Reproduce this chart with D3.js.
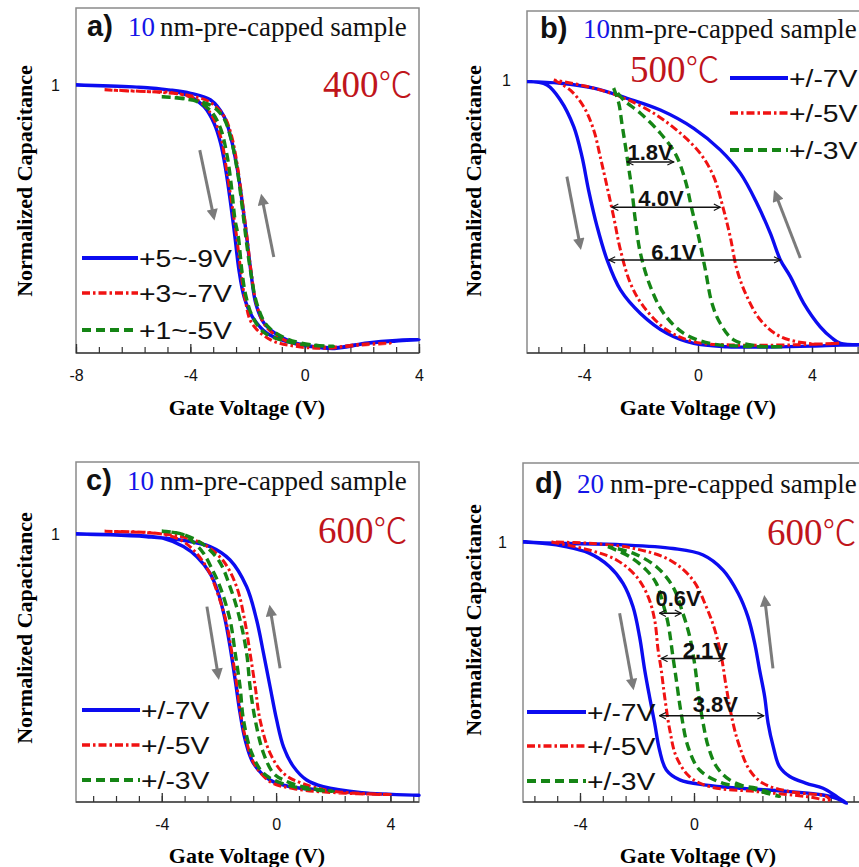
<!DOCTYPE html>
<html>
<head>
<meta charset="utf-8">
<script src="https://cdn.jsdelivr.net/npm/d3@7"></script>
<style>
  body { margin: 0; background: #fff; }
  svg { display: block; }
</style>
</head>
<body>
<svg width="859" height="867"></svg>
<script>
// ---- data (gate voltage V, normalized capacitance) ----
// each loop: down sweep first, then the return sweep

// a) 10 nm, 400C
const aBlue = [[-8, 1.0], [-6.5, 0.995], [-5.5, 0.99], [-4.7, 0.98], [-4.0, 0.957], [-3.52, 0.919], [-3.17, 0.857], [-2.94, 0.782], [-2.76, 0.683], [-2.59, 0.558], [-2.44, 0.434], [-2.30, 0.31], [-2.12, 0.21], [-1.83, 0.135], [-1.31, 0.073], [-0.61, 0.042], [0.21, 0.024], [1.05, 0.017], [2.19, 0.036], [3.2, 0.045], [4.0, 0.05],
  [3.2, 0.047], [2.2, 0.038], [1.05, 0.02], [-0.02, 0.029], [-0.84, 0.061], [-1.42, 0.111], [-1.71, 0.185], [-1.89, 0.31], [-2.03, 0.434], [-2.18, 0.558], [-2.35, 0.683], [-2.59, 0.807], [-2.82, 0.882], [-3.29, 0.944], [-3.99, 0.969], [-4.69, 0.981], [-6.0, 0.993], [-8.0, 1.0]];
const aRed = [[-7.0, 0.982], [-6.2, 0.978], [-5.4, 0.975], [-4.69, 0.972], [-3.75, 0.944], [-3.29, 0.894], [-2.94, 0.807], [-2.73, 0.683], [-2.55, 0.558], [-2.38, 0.434], [-2.24, 0.31], [-2.08, 0.198], [-1.85, 0.111], [-1.19, 0.049], [-0.26, 0.024], [0.8, 0.018], [2.0, 0.03], [3.0, 0.036],
  [2.0, 0.033], [1.0, 0.022], [0.0, 0.028], [-0.72, 0.049], [-1.35, 0.098], [-1.68, 0.18], [-1.88, 0.31], [-2.02, 0.434], [-2.17, 0.558], [-2.33, 0.683], [-2.55, 0.807], [-2.8, 0.88], [-3.3, 0.935], [-4.0, 0.96], [-5.0, 0.972], [-6.0, 0.978], [-7.0, 0.982]];
const aGreen = [[-5.0, 0.956], [-4.4, 0.952], [-3.8, 0.94], [-3.3, 0.905], [-2.95, 0.84], [-2.72, 0.74], [-2.56, 0.62], [-2.44, 0.5], [-2.32, 0.434], [-2.2, 0.31], [-2.05, 0.21], [-1.8, 0.13], [-1.4, 0.075], [-0.7, 0.045], [0.1, 0.03], [1.0, 0.025],
  [0.3, 0.03], [-0.6, 0.052], [-1.3, 0.1], [-1.66, 0.18], [-1.9, 0.31], [-2.06, 0.434], [-2.2, 0.558], [-2.36, 0.683], [-2.58, 0.8], [-2.85, 0.88], [-3.3, 0.925], [-4.2, 0.948], [-5.0, 0.956]];

// b) 10 nm, 500C
const bBlue = [[-6, 0.994], [-5.3, 0.982], [-4.83, 0.927], [-4.36, 0.829], [-4.07, 0.719], [-3.84, 0.597], [-3.54, 0.463], [-3.19, 0.341], [-2.72, 0.231], [-2.02, 0.145], [-1.09, 0.072], [-0.15, 0.035], [1.02, 0.023], [2.5, 0.022], [4.0, 0.025], [5.0, 0.029], [6.0, 0.03],
  [5.0, 0.035], [4.7, 0.055], [4.29, 0.096], [3.71, 0.182], [3.24, 0.28], [2.89, 0.341], [2.54, 0.438], [2.07, 0.548], [1.49, 0.658], [0.78, 0.744], [-0.15, 0.823], [-1.32, 0.89], [-2.49, 0.933], [-3.66, 0.97], [-4.83, 0.988], [-6, 0.994]];
const bRed = [[-5.06, 1.0], [-4.48, 0.963], [-4.01, 0.902], [-3.66, 0.817], [-3.43, 0.719], [-3.19, 0.609], [-2.96, 0.499], [-2.72, 0.377], [-2.37, 0.255], [-1.91, 0.17], [-1.09, 0.084], [-0.15, 0.041], [1.02, 0.03], [3.36, 0.03], [5.0, 0.036],
  [4.0, 0.034], [2.89, 0.06], [2.19, 0.121], [1.72, 0.206], [1.37, 0.304], [1.13, 0.426], [0.90, 0.524], [0.55, 0.646], [0.08, 0.731], [-0.62, 0.805], [-1.55, 0.878], [-2.72, 0.939], [-3.89, 0.976], [-5.06, 1.0]];
const bGreen = [[-2.96, 0.97], [-2.78, 0.915], [-2.67, 0.841], [-2.49, 0.719], [-2.32, 0.597], [-2.20, 0.487], [-2.02, 0.365], [-1.67, 0.243], [-1.20, 0.145], [-0.50, 0.072], [0.43, 0.035], [1.5, 0.025], [2.19, 0.023], [3.0, 0.023],
  [2.19, 0.025], [1.25, 0.048], [0.78, 0.109], [0.49, 0.182], [0.26, 0.304], [0.02, 0.426], [-0.21, 0.524], [-0.45, 0.634], [-0.80, 0.731], [-1.32, 0.805], [-2.02, 0.878], [-2.61, 0.927], [-2.96, 0.97]];

// c) 10 nm, 600C
const cBlue = [[-7, 1.0], [-6, 0.998], [-5.1, 0.996], [-3.94, 0.984], [-3.24, 0.953], [-2.77, 0.915], [-2.31, 0.853], [-2.02, 0.779], [-1.78, 0.679], [-1.61, 0.579], [-1.43, 0.455], [-1.26, 0.331], [-1.08, 0.231], [-0.79, 0.144], [-0.21, 0.082], [0.49, 0.057], [1.65, 0.045], [3.0, 0.033], [5.0, 0.025],
  [3.0, 0.035], [1.65, 0.057], [1.07, 0.082], [0.61, 0.132], [0.26, 0.206], [0.02, 0.306], [-0.21, 0.43], [-0.44, 0.555], [-0.68, 0.679], [-1.03, 0.803], [-1.61, 0.903], [-2.31, 0.953], [-3.36, 0.978], [-4.52, 0.99], [-5.8, 0.997], [-7, 1.0]];
const cRed = [[-6.0, 1.01], [-5.0, 1.008], [-4.0, 1.0], [-3.3, 0.975], [-2.8, 0.93], [-2.35, 0.86], [-2.05, 0.78], [-1.76, 0.679], [-1.58, 0.579], [-1.4, 0.455], [-1.24, 0.331], [-1.05, 0.231], [-0.75, 0.14], [-0.2, 0.075], [0.6, 0.05], [2.0, 0.035], [4.0, 0.028],
  [2.0, 0.04], [0.9, 0.07], [0.26, 0.107], [-0.21, 0.182], [-0.56, 0.306], [-0.73, 0.43], [-0.91, 0.555], [-1.1, 0.679], [-1.38, 0.803], [-1.85, 0.9], [-2.5, 0.96], [-3.3, 0.99], [-4.5, 1.005], [-6.0, 1.01]];
const cGreen = [[-4.0, 1.01], [-3.3, 1.0], [-2.9, 0.97], [-2.54, 0.928], [-2.2, 0.86], [-1.96, 0.803], [-1.61, 0.679], [-1.43, 0.555], [-1.26, 0.43], [-1.14, 0.306], [-0.85, 0.182], [-0.44, 0.107], [0.2, 0.07], [1.0, 0.05], [2.0, 0.04],
  [1.0, 0.055], [0.3, 0.08], [-0.09, 0.107], [-0.44, 0.182], [-0.73, 0.306], [-0.91, 0.43], [-1.03, 0.555], [-1.26, 0.679], [-1.61, 0.803], [-2.0, 0.9], [-2.6, 0.965], [-3.3, 1.0], [-4.0, 1.01]];

// d) 20 nm, 600C
const dBlue = [[-6, 1.0], [-4.83, 0.989], [-3.68, 0.957], [-2.96, 0.905], [-2.49, 0.841], [-2.14, 0.751], [-1.91, 0.636], [-1.73, 0.508], [-1.56, 0.405], [-1.38, 0.303], [-1.21, 0.2], [-0.97, 0.123], [-0.5, 0.085], [0.43, 0.065], [1.6, 0.053], [3.36, 0.04], [4.53, 0.027], [5.0, 0.014], [5.35, -0.005],
  [5.0, 0.021], [4.53, 0.053], [3.94, 0.072], [3.36, 0.098], [3.0, 0.136], [2.78, 0.213], [2.6, 0.303], [2.48, 0.405], [2.3, 0.508], [2.13, 0.61], [1.89, 0.713], [1.55, 0.803], [1.02, 0.892], [0.32, 0.95], [-0.74, 0.975], [-2.49, 0.989], [-4.83, 0.995], [-6, 1.0]];
const dRed = [[-5.0, 1.0], [-3.68, 0.969], [-2.72, 0.931], [-2.02, 0.867], [-1.61, 0.79], [-1.38, 0.7], [-1.26, 0.585], [-1.15, 0.508], [-1.03, 0.405], [-0.85, 0.277], [-0.62, 0.174], [-0.15, 0.097], [0.55, 0.059], [2.19, 0.04], [3.94, 0.021], [4.75, 0.008],
  [4.65, 0.021], [3.36, 0.04], [2.42, 0.072], [1.95, 0.123], [1.6, 0.213], [1.37, 0.303], [1.13, 0.443], [0.96, 0.559], [0.73, 0.662], [0.43, 0.751], [-0.04, 0.854], [-0.85, 0.931], [-2.14, 0.976], [-3.68, 0.995], [-5.0, 1.0]];
const dGreen = [[-3.02, 0.982], [-2.26, 0.944], [-1.67, 0.892], [-1.32, 0.841], [-1.09, 0.764], [-0.91, 0.687], [-0.74, 0.559], [-0.62, 0.469], [-0.45, 0.341], [-0.21, 0.213], [0.2, 0.123], [1.02, 0.072], [2.19, 0.053], [3.0, 0.021],
  [2.19, 0.046], [1.25, 0.085], [0.79, 0.136], [0.5, 0.213], [0.32, 0.303], [0.14, 0.431], [0.02, 0.533], [-0.15, 0.636], [-0.39, 0.726], [-0.74, 0.828], [-1.32, 0.905], [-2.14, 0.957], [-3.02, 0.982]];

// labels and ticks
const panelLetters = ["a)", "b)", "c)", "d)"];
const capThickness = ["10", "10", "10", "20"];
const titleRest = "nm-pre-capped sample";
const temperatures = ["400", "500", "600", "600"];
const tempUnit = "\u2103";
const legendA = ["+5~-9V", "+3~-7V", "+1~-5V"];
const legendBCD = ["+/-7V", "+/-5V", "+/-3V"];
const xTicksA = [-8, -4, 0, 4];
const xTicksBCD = [-4, 0, 4];
const yTicks = [1];
const xTitle = "Gate Voltage (V)";
const yTitle = "Normalized Capacitance";

// window widths (V): from, to, level, label, label position
const windowLabelsB = ["1.8V", "4.0V", "6.1V"];
const windowFromB = [-2.49, -3.02, -3.13];
const windowToB = [-0.85, 0.78, 2.89];
const windowLevelB = [0.70, 0.534, 0.341];
const windowTextB = [-1.68, -1.3, -0.85];
const windowLabelsD = ["0.6V", "2.1V", "3.8V"];
const windowFromD = [-1.21, -1.15, -1.21];
const windowToD = [-0.45, 1.08, 2.45];
const windowLevelD = [0.726, 0.552, 0.332];
const windowTextD = [-0.56, 0.40, 0.75];

// sweep direction arrows [[V0, C0], [V1, C1]]
const sweepA = [[[-3.67, 0.757], [-3.18, 0.507]], [[-1.08, 0.358], [-1.50, 0.582]]];
const sweepB = [[[-4.6, 0.646], [-4.13, 0.39]], [[3.59, 0.348], [2.71, 0.585]]];
const sweepC = [[[-2.42, 0.729], [-2.02, 0.468]], [[0.14, 0.499], [-0.21, 0.723]]];
const sweepD = [[[-2.61, 0.726], [-2.14, 0.443]], [[2.77, 0.514], [2.48, 0.783]]];

// ---- styles / layout ----
const serif = "'Liberation Serif', 'Times New Roman', serif";
const sans = "'Liberation Sans', Arial, sans-serif";
const cjk = "'Noto Sans CJK SC', 'Noto Sans CJK JP', serif";
const styles = [
  { color: "#0c0cf0", width: 3.4, dash: null },
  { color: "#f01212", width: 3.0, dash: "8,3,2.5,3" },
  { color: "#158515", width: 3.4, dash: "9,5" }
];

const panels = [
  { series: [aBlue, aRed, aGreen], legend: legendA, ticks: xTicksA, sweep: sweepA,
    left: 76, top: 8, bottom: 353, width: 343, y1: 85, xd: [-8, 4],
    title: [87, 128, 160, 36], temp: [323, 97], legendPos: [82, 138, [258, 293, 330]],
    yLab: [32, 181], xLab: [247, 415] },
  { series: [bBlue, bRed, bGreen], legend: legendBCD, ticks: xTicksBCD, sweep: sweepB,
    left: 527, top: 11, bottom: 353, width: 342, y1: 80, xd: [-6, 6],
    title: [540, 583, 610, 38], temp: [630, 82], legendPos: [730, 788, [78, 113, 150]],
    yLab: [481, 181], xLab: [698, 415],
    windows: [windowLabelsB, windowFromB, windowToB, windowLevelB, windowTextB], windowDy: [-2, -1, 0] },
  { series: [cBlue, cRed, cGreen], legend: legendBCD, ticks: xTicksBCD, sweep: sweepC,
    left: 76, top: 462, bottom: 802, width: 343, y1: 534, xd: [-7, 5],
    title: [86, 127, 160, 490], temp: [318, 543], legendPos: [82, 140, [710, 745, 780]],
    yLab: [32, 628], xLab: [247, 863] },
  { series: [dBlue, dRed, dGreen], legend: legendBCD, ticks: xTicksBCD, sweep: sweepD,
    left: 523, top: 463, bottom: 802, width: 342, y1: 542, xd: [-6, 6],
    title: [535, 577, 610, 493], temp: [767, 545], legendPos: [527, 586, [712, 746, 781]],
    yLab: [481, 620], xLab: [698, 863],
    windows: [windowLabelsD, windowFromD, windowToD, windowLevelD, windowTextD], windowDy: [-7, 0, -4] }
];

const svg = d3.select("svg");
const defs = svg.append("defs");
defs.append("marker")
  .attr("id", "grayHead").attr("viewBox", "0 0 10 10")
  .attr("refX", 7).attr("refY", 5)
  .attr("markerWidth", 4.4).attr("markerHeight", 3.8)
  .attr("orient", "auto")
  .append("path").attr("d", "M0,0 L10,5 L0,10 z").attr("fill", "#7b7b7b");
defs.append("marker")
  .attr("id", "blackHead").attr("viewBox", "0 0 10 10")
  .attr("refX", 9).attr("refY", 5)
  .attr("markerUnits", "userSpaceOnUse")
  .attr("markerWidth", 8).attr("markerHeight", 8)
  .attr("orient", "auto-start-reverse")
  .append("path").attr("d", "M1,1 L9,5 L1,9").attr("fill", "none")
  .attr("stroke", "#111").attr("stroke-width", 1.4);

panels.forEach((p, i) => {
  const x = d3.scaleLinear().domain(p.xd).range([p.left, p.left + p.width]);
  const y = d3.scaleLinear().domain([0, 1]).range([p.bottom, p.y1]);
  const g = svg.append("g");

  // frame
  g.append("rect")
    .attr("x", p.left).attr("y", p.top)
    .attr("width", p.width).attr("height", p.bottom - p.top)
    .attr("fill", "none").attr("stroke", "#8a8a8a").attr("stroke-width", 1.5);
  g.append("line")
    .attr("x1", p.left).attr("x2", p.left + p.width)
    .attr("y1", p.bottom).attr("y2", p.bottom)
    .attr("stroke", "#444").attr("stroke-width", 1.5);

  // minor ticks every 0.8 V
  const minor = d3.range(Math.ceil(p.xd[0] / 0.8 - 1e-6) * 0.8, p.xd[1] + 1e-6, 0.8);
  g.append("g")
    .attr("transform", `translate(0,${p.bottom})`)
    .call(d3.axisBottom(x).tickValues(minor).tickSize(-6).tickFormat(""))
    .call(a => a.select(".domain").remove())
    .call(a => a.selectAll("line").attr("stroke", "#333").attr("stroke-width", 1.2));
  g.append("g")
    .attr("transform", `translate(0,${p.bottom})`)
    .call(d3.axisBottom(x).tickValues(p.ticks).tickSize(-9).tickPadding(17).tickFormat(d => String(d)))
    .call(a => a.select(".domain").remove())
    .call(a => a.selectAll("line").attr("stroke", "#333").attr("stroke-width", 1.3))
    .call(a => a.selectAll("text").attr("font-family", sans).attr("font-size", 16).attr("fill", "#111"));
  g.append("g")
    .attr("transform", `translate(${p.left},0)`)
    .call(d3.axisLeft(y).tickValues(yTicks).tickSize(0).tickPadding(16).tickFormat(d => String(d)))
    .call(a => a.select(".domain").remove())
    .call(a => a.selectAll("text").attr("font-family", sans).attr("font-size", 16).attr("fill", "#111"));

  // axis titles
  g.append("text")
    .attr("transform", `translate(${p.yLab[0]},${p.yLab[1]}) rotate(-90)`)
    .attr("text-anchor", "middle")
    .attr("font-family", serif).attr("font-weight", "bold").attr("font-size", 22)
    .text(yTitle);
  g.append("text")
    .attr("x", p.xLab[0]).attr("y", p.xLab[1])
    .attr("text-anchor", "middle")
    .attr("font-family", serif).attr("font-weight", "bold").attr("font-size", 22)
    .text(xTitle);

  // curves
  const line = d3.line()
    .x(d => x(d[0])).y(d => y(d[1]))
    .curve(d3.curveCatmullRom.alpha(0.5));
  p.series.forEach((s, k) => {
    g.append("path")
      .attr("d", line(s))
      .attr("fill", "none")
      .attr("stroke", styles[k].color)
      .attr("stroke-width", styles[k].width)
      .attr("stroke-dasharray", styles[k].dash)
      .attr("stroke-linejoin", "round");
  });

  // sweep direction arrows
  p.sweep.forEach(s => {
    g.append("line")
      .attr("x1", x(s[0][0])).attr("y1", y(s[0][1]))
      .attr("x2", x(s[1][0])).attr("y2", y(s[1][1]))
      .attr("stroke", "#7b7b7b").attr("stroke-width", 3)
      .attr("marker-end", "url(#grayHead)");
  });

  // memory window annotations
  if (p.windows) {
    const [labels, from, to, level, tx] = p.windows;
    labels.forEach((lab, k) => {
      g.append("line")
        .attr("x1", x(from[k])).attr("x2", x(to[k]))
        .attr("y1", y(level[k])).attr("y2", y(level[k]))
        .attr("stroke", "#111").attr("stroke-width", 1.5)
        .attr("marker-start", "url(#blackHead)")
        .attr("marker-end", "url(#blackHead)");
      g.append("text")
        .attr("x", x(tx[k])).attr("y", y(level[k]) + p.windowDy[k])
        .attr("text-anchor", "middle")
        .attr("font-family", sans).attr("font-weight", "bold").attr("font-size", 22)
        .attr("fill", "#111")
        .text(lab);
    });
  }

  // panel title
  const t = g.append("text").attr("y", p.title[3]).attr("font-size", 27);
  t.append("tspan").attr("x", p.title[0])
    .attr("font-family", sans).attr("font-weight", "bold").attr("font-size", 29).attr("fill", "#111")
    .text(panelLetters[i]);
  t.append("tspan").attr("x", p.title[1])
    .attr("font-family", serif).attr("fill", "#1515e8")
    .text(capThickness[i]);
  t.append("tspan").attr("x", p.title[2])
    .attr("font-family", serif).attr("fill", "#111")
    .text(titleRest);

  // temperature
  const tt = g.append("text")
    .attr("x", p.temp[0]).attr("y", p.temp[1])
    .attr("fill", "#c0151b");
  tt.append("tspan").attr("font-family", serif).attr("font-size", 37).text(temperatures[i]);
  tt.append("tspan").attr("font-family", cjk).attr("font-weight", 300).attr("font-size", 34).text(tempUnit);

  // legend
  const [lx0, lx1, ly] = p.legendPos;
  p.legend.forEach((lab, k) => {
    g.append("line")
      .attr("x1", lx0).attr("x2", lx1).attr("y1", ly[k]).attr("y2", ly[k])
      .attr("stroke", styles[k].color)
      .attr("stroke-width", styles[k].width + 0.4)
      .attr("stroke-dasharray", styles[k].dash);
    g.append("text")
      .attr("transform", `translate(${lx1 + 1},${ly[k] + 9}) scale(1.18,1)`)
      .attr("font-family", sans).attr("font-size", 24).attr("fill", "#111")
      .text(lab);
  });
});
</script>
</body>
</html>
